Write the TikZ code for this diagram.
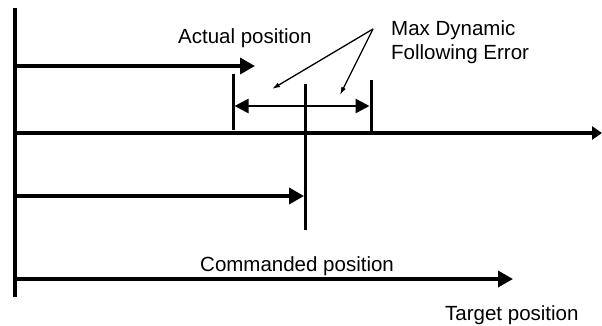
\documentclass[tikz,border=0pt]{standalone}
\usepackage{fontspec}
\setmainfont{Liberation Sans}
\usetikzlibrary{arrows.meta}

\begin{document}
\begin{tikzpicture}[
  x=1pt, y=-1pt,
  lbl/.style={font=\fontsize{20.5}{24}\selectfont, inner sep=0pt, anchor=base west, align=left},
  axline/.style={line width=3.5pt},
  tickline/.style={line width=3pt},
  posarrow/.style={line width=3.5pt, -{Triangle[length=15pt,width=16pt]}},
  errarrow/.style={line width=2.6pt, {Triangle[length=14pt,width=14pt]}-{Triangle[length=14pt,width=14pt]}},
  leadarrow/.style={line width=1.3pt, -{Latex[length=8pt,width=5pt]}}
]
\useasboundingbox (0,0) rectangle (602,325);

% ---- axes
\coordinate (top) at (15,8);
\coordinate (bot) at (15,297);
\coordinate (o1) at (15,66);
\coordinate (o2) at (15,133);
\coordinate (o3) at (15,196);
\coordinate (o4) at (15,279);
\coordinate (xend) at (602,133);
\draw[axline] (top) -- (bot);
\draw[axline, -{Triangle[length=10pt,width=13pt]}] (o2) -- (xend);

% ---- ticks
\coordinate (lt1) at (233,74);  \coordinate (lt2) at (233,130);
\coordinate (rt1) at (371,80);  \coordinate (rt2) at (371,133);
\coordinate (ct1) at (305,84);  \coordinate (ct2) at (305,230);
\draw[tickline] (lt1) -- (lt2);
\draw[tickline] (rt1) -- (rt2);
\draw[tickline] (ct1) -- (ct2);

% ---- position arrows
\coordinate (act) at (255,66);
\coordinate (cmd) at (304,196);
\coordinate (tgt) at (513,279);
\draw[posarrow] (o1) -- (act);
\draw[posarrow] (o3) -- (cmd);
\draw[posarrow] (o4) -- (tgt);
\coordinate (el) at (234.5,106);
\coordinate (er) at (369.5,106);
\draw[errarrow] (el) -- (er);

% ---- labels
\node[lbl] (actl) at (178,43) {Actual position};
\node[lbl] (maxl) at (391,59) {Max Dynamic\\Following Error};
\node[lbl] (cmdl) at (200,271) {Commanded position};
\node[lbl] (tgtl) at (445,320) {Target position};

% ---- leaders
\coordinate (src) at (373,29);
\coordinate (p1) at (272,89);
\coordinate (p2) at (340,95);
\draw[leadarrow] (src) -- (p1);
\draw[leadarrow] (src) -- (p2);
\end{tikzpicture}
\end{document}
